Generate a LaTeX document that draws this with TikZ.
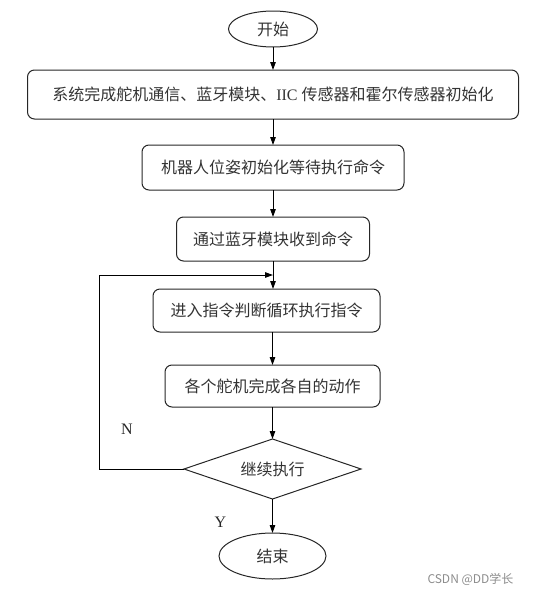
\documentclass[tikz,border=0pt]{standalone}
\usepackage{fontspec}
\setmainfont{Liberation Serif}
\newfontfamily\cjkfont{Noto Sans CJK SC}
\usetikzlibrary{arrows.meta,calc,positioning,shapes.geometric}
\newdimen\hdim
\newdimen\gdim
\hdim=44pt
\gdim=27pt
\tikzstyle{block}=[
  draw=black!85,
  font={\cjkfont\fontsize{16}{18}\selectfont},
  text=black!80,
  inner sep=0pt,
  outer sep=0pt,
  minimum height=\hdim,
  line width=1pt,
  rectangle,
  rounded corners=7pt,
  text centered,
]
\tikzstyle{terminal}=[
  block,
  ellipse,
  rounded corners=0pt,
]
\tikzstyle{decision}=[
  block,
  diamond,
  aspect=3,
  rounded corners=0pt,
  minimum width=177pt,
  minimum height=60pt,
]
\tikzstyle{arrow}=[
  draw=black,
  line width=1pt,
]
\tikzstyle{branch}=[
  font={\fontsize{16}{16}\selectfont},
  text=black!85,
]
\tikzset{
  node distance=\gdim,
  >={Triangle[length=8pt,width=5.5pt]},
}
\begin{document}
\begin{tikzpicture}
      \useasboundingbox (0,0) rectangle (533pt,-595pt);
      \node (start) [terminal, minimum width=89pt, minimum height=36pt] at (273pt,-29pt) {开始};
      \node (sys) [block, below=23pt of start, minimum width=491pt, minimum height=49pt]
        {系统完成舵机通信、蓝牙模块、\fontspec{Liberation Serif}IIC \cjkfont 传感器和霍尔传感器初始化};
      \node (pose) [block, below=26pt of sys, minimum width=262pt, minimum height=45pt] {机器人位姿初始化等待执行命令};
      \node (recv) [block, below=of pose, minimum width=193pt] {通过蓝牙模块收到命令};
      \node (loop) [block, below=28pt of recv, xshift=-6.5pt, minimum width=227pt, minimum height=43pt] {进入指令判断循环执行指令};
      \node (act) [block, below=33pt of loop, xshift=6pt, minimum width=215pt, minimum height=42pt] {各个舵机完成各自的动作};
      \node (cond) [decision, below=32pt of act] {继续执行};
      \node (stop) [terminal, below=34pt of cond, minimum width=107pt, minimum height=46pt] {结束};
      %%
      \coordinate (join) at ($(recv.south)!.5!(recv.south|-loop.north)$);
      \node (no) [branch] at ($(cond.west)+(-57pt,40pt)$) {N};
      \node (yes) [branch] at ($(cond.south)+(-52pt,-23pt)$) {Y};
      \node (wm) [font={\cjkfont\fontsize{12}{12}\selectfont}, text=black!45, anchor=east] at (517pt,-579pt) {CSDN @DD学长};
      %%
      \draw [->, arrow] (start) -- (sys);
      \draw [->, arrow] (sys) -- (pose);
      \draw [->, arrow] (pose) -- (recv);
      \draw [->, arrow] (recv.south) -- (recv.south|-loop.north);
      \draw [->, arrow] (act.north|-loop.south) -- (act);
      \draw [->, arrow] (act) -- (cond);
      \draw [->, arrow] (cond) -- (stop);
      \draw [->, arrow] (cond.west) -- ++(-85pt,0) |- (join);
    \end{tikzpicture}
\end{document}
